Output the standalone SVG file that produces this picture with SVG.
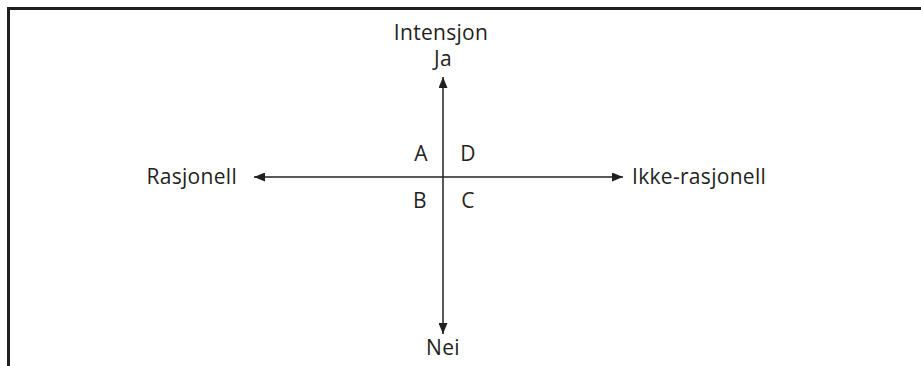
<svg xmlns="http://www.w3.org/2000/svg" width="921" height="366" viewBox="0 0 921 366">
<style>
text{font-family:"Open Sans","Noto Sans","Liberation Sans",sans-serif;font-size:21px;letter-spacing:0.3px;fill:#231f20}
.ax{stroke:#231f20;stroke-width:1.5;fill:none}
</style>
<defs>
<marker id="ah" viewBox="0 0 11 9" refX="11" refY="4.5" markerWidth="11" markerHeight="9" markerUnits="userSpaceOnUse" orient="auto">
<path d="M0,0 L11,4.5 L0,9 Z" fill="#231f20"/>
</marker>
</defs>
<rect width="921" height="366" fill="#fff"/>
<path d="M8.5,366 V8.5 H921" stroke="#231f20" stroke-width="3" fill="none"/>
<g id="connectors">
<line class="ax" x1="443" y1="177" x2="443" y2="77" marker-end="url(#ah)"/>
<line class="ax" x1="443" y1="177" x2="443" y2="334" marker-end="url(#ah)"/>
<line class="ax" x1="443" y1="177" x2="254" y2="177" marker-end="url(#ah)"/>
<line class="ax" x1="443" y1="177" x2="623" y2="177" marker-end="url(#ah)"/>
</g>
<g id="intensjon"><text x="441" y="40" text-anchor="middle">Intensjon</text></g>
<g id="ja"><text x="443" y="66" text-anchor="middle">Ja</text></g>
<g id="nei"><text x="443" y="355" text-anchor="middle">Nei</text></g>
<g id="rasjonell"><text x="237" y="184" text-anchor="end">Rasjonell</text></g>
<g id="ikke"><text x="632" y="184">Ikke-rasjonell</text></g>
<g id="qA"><text x="421" y="161" text-anchor="middle">A</text></g>
<g id="qD"><text x="468" y="161" text-anchor="middle">D</text></g>
<g id="qB"><text x="420" y="208" text-anchor="middle">B</text></g>
<g id="qC"><text x="468" y="208" text-anchor="middle">C</text></g>
</svg>
